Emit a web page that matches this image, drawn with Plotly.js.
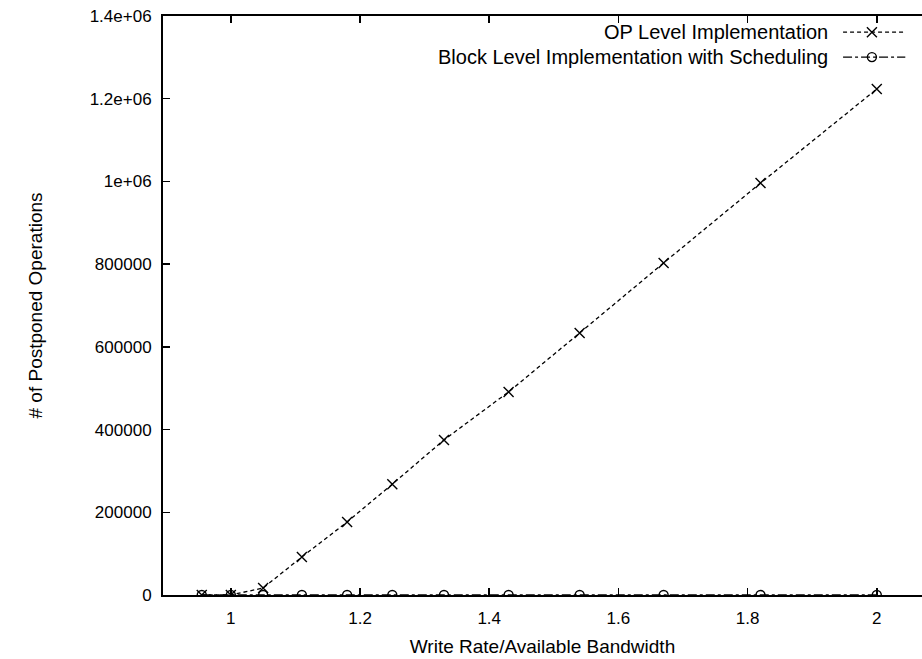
<!DOCTYPE html>
<html>
<head>
<meta charset="utf-8">
<script src="https://cdn.plot.ly/plotly-3.0.1.min.js"></script>
<style>html,body{margin:0;padding:0;background:#fff;overflow:hidden;}#chart{width:922px;height:659px;}</style>
</head>
<body>
<div id="chart"></div>
<script>
// Data
const writeRatio = [0.955, 1.0, 1.05, 1.11, 1.18, 1.25, 1.33, 1.43, 1.54, 1.67, 1.82, 2.0];
const opLevel = [0, 0, 17000, 92000, 176500, 268000, 375000, 491000, 633500, 803000, 996000, 1223500];
const blockLevel = [0, 0, 0, 0, 0, 0, 0, 0, 0, 0, 0, 0];
const seriesNames = ["OP Level Implementation", "Block Level Implementation with Scheduling"];
const yTickVals = [0, 200000, 400000, 600000, 800000, 1000000, 1200000, 1400000];
const yTickText = ["0", "200000", "400000", "600000", "800000", "1e+06", "1.2e+06", "1.4e+06"];
const xTickVals = [1, 1.2, 1.4, 1.6, 1.8, 2];
const xTickText = ["1", "1.2", "1.4", "1.6", "1.8", "2"];

const FONT = "Liberation Sans, Arial, Helvetica, sans-serif";
const TICK_FS = 17;
const TITLE_FS = 19;
const LEG_FS = 20;

// legend sample geometry (in a hidden 0..1 overlay axis)
const legX = [0.896, 0.978];
const legMarkX = 0.934;
const legY = [0.972, 0.929];

const traces = [
  {x: writeRatio, y: opLevel, mode: "lines+markers", name: seriesNames[0],
   line: {color: "#000", width: 1.3, dash: "4px,3px"},
   marker: {symbol: "x-thin-open", size: 10, color: "#000", line: {color: "#000", width: 1.4}}},
  {x: writeRatio, y: blockLevel, mode: "lines+markers", name: seriesNames[1],
   line: {color: "#000", width: 1.3, dash: "dashdot"},
   marker: {symbol: "circle-open", size: 9, color: "#000", line: {color: "#000", width: 1.4}}},
  // legend samples
  {x: legX, y: [legY[0], legY[0]], xaxis: "x2", yaxis: "y2", mode: "lines", showlegend: false,
   line: {color: "#000", width: 1.2, dash: "4px,3px"}, hoverinfo: "skip"},
  {x: [legMarkX], y: [legY[0]], xaxis: "x2", yaxis: "y2", mode: "markers", showlegend: false,
   marker: {symbol: "x-thin-open", size: 10, color: "#000", line: {color: "#000", width: 1.4}}, hoverinfo: "skip"},
  {x: legX, y: [legY[1], legY[1]], xaxis: "x2", yaxis: "y2", mode: "lines", showlegend: false,
   line: {color: "#000", width: 1.2, dash: "dashdot"}, hoverinfo: "skip"},
  {x: [legMarkX], y: [legY[1]], xaxis: "x2", yaxis: "y2", mode: "markers", showlegend: false,
   marker: {symbol: "circle-open", size: 9, color: "#000", line: {color: "#000", width: 1.4}}, hoverinfo: "skip"}
];

const layout = {
  width: 922, height: 659,
  margin: {l: 163, r: 0, t: 16, b: 64},
  paper_bgcolor: "#fff", plot_bgcolor: "#fff",
  showlegend: false,
  font: {family: FONT, size: TICK_FS, color: "#000"},
  xaxis: {range: [0.895, 2.07], tickvals: xTickVals, ticktext: xTickText,
    ticks: "inside", ticklen: 7, tickwidth: 1.5, tickcolor: "#000",
    showline: true, linecolor: "#000", linewidth: 2, mirror: "ticks",
    showgrid: false, zeroline: false,
    tickfont: {family: FONT, size: TICK_FS}, ticklabelstandoff: 7,
    title: {text: "Write Rate/Available Bandwidth", font: {family: FONT, size: TITLE_FS}, standoff: 12}},
  yaxis: {range: [0, 1400000], tickvals: yTickVals, ticktext: yTickText,
    ticks: "inside", ticklen: 7, tickwidth: 1.5, tickcolor: "#000",
    showline: true, linecolor: "#000", linewidth: 2, mirror: false,
    showgrid: false, zeroline: false,
    tickfont: {family: FONT, size: TICK_FS}, ticklabelstandoff: 6,
    title: {text: "# of Postponed Operations", font: {family: FONT, size: TITLE_FS}, standoff: 42}},
  xaxis2: {overlaying: "x", range: [0, 1], visible: false, fixedrange: true},
  yaxis2: {overlaying: "y", range: [0, 1], visible: false, fixedrange: true},
  annotations: [
    {xref: "paper", yref: "paper", x: 0.879, y: legY[0], xanchor: "right", yanchor: "middle",
     text: seriesNames[0], showarrow: false, font: {family: FONT, size: LEG_FS}},
    {xref: "paper", yref: "paper", x: 0.879, y: legY[1], xanchor: "right", yanchor: "middle",
     text: seriesNames[1], showarrow: false, font: {family: FONT, size: LEG_FS}}
  ]
};

Plotly.newPlot("chart", traces, layout, {staticPlot: true, displayModeBar: false});
</script>
</body>
</html>
